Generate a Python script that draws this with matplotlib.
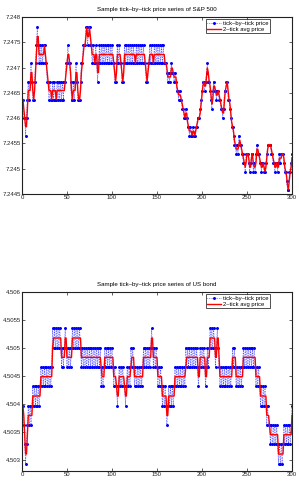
import numpy as np
import matplotlib
matplotlib.use("Agg")
import matplotlib.pyplot as plt
from matplotlib.ticker import FuncFormatter

# ---------------- data ----------------
# S&P 500: price = sp_base + sp_tick * sp_ticks  (log price plotted)
sp_base = 1400.0
sp_tick = 0.5
sp_ticks = [
    6, 5, 5, 4, 5, 6, 7, 6, 7, 8,
    7, 6, 6, 7, 8, 9, 10, 9, 8, 9,
    8, 9, 8, 9, 9, 8, 8, 7, 7, 6,
    7, 6, 6, 7, 6, 7, 6, 6, 7, 6,
    7, 6, 7, 6, 7, 6, 7, 7, 8, 8,
    9, 8, 8, 7, 6, 6, 7, 6, 7, 8,
    7, 6, 6, 6, 7, 8, 8, 9, 9, 9,
    10, 10, 9, 10, 10, 9, 9, 8, 9, 8,
    8, 9, 8, 7, 8, 9, 8, 9, 8, 9,
    8, 9, 8, 9, 8, 9, 8, 9, 8, 9,
    8, 8, 7, 7, 8, 9, 8, 9, 8, 8,
    7, 7, 8, 9, 8, 9, 8, 9, 8, 9,
    8, 9, 8, 9, 8, 8, 9, 8, 9, 8,
    9, 8, 9, 8, 9, 8, 8, 7, 7, 8,
    8, 9, 8, 9, 8, 8, 9, 8, 9, 8,
    9, 8, 9, 8, 9, 8, 9, 8, 8, 8,
    7.5, 7, 7.5, 7, 7.5, 8, 7.5, 7.5, 7, 7.5,
    7, 6.5, 6.5, 6, 6.5, 6, 6, 5.5, 5.5, 5,
    5, 5.5, 5, 4.5, 4.5, 4, 4.5, 4, 4, 4.5,
    4, 4, 4.5, 4.5, 5, 5, 5, 5.5, 6, 6.5,
    7, 7, 6.5, 7, 7.5, 8, 7, 7, 6.5, 6,
    5.5, 6.5, 7, 6.5, 6.5, 6, 6.5, 6.5, 6, 6,
    5.5, 5.5, 5, 5.5, 6.5, 6.5, 7, 7, 6, 6,
    5.5, 5, 4.5, 4.5, 4, 3.5, 3.5, 3, 3.5, 3,
    4, 3.5, 3.5, 3, 3, 2.5, 2.5, 2, 3, 3,
    3, 2.5, 2, 2.5, 3, 3, 2, 2.5, 2, 3,
    3.5, 3, 3, 2.5, 2.5, 2, 2.5, 2.5, 2, 2,
    2.5, 3, 3.5, 3.5, 3.5, 3.5, 3, 3, 2.5, 2.5,
    2, 2.5, 2.5, 2, 2.5, 3, 2.5, 3, 3, 3,
    2.5, 2, 2, 1.5, 1, 1, 2, 2, 2.5, 3,
]

# US bond: price = bond_base + bond_32nds / 32  (log price plotted)
bond_base = 90.0
bond_32nds = [
    12, 11, 10, 9, 10, 11, 12, 11, 12, 11,
    12, 13, 12, 13, 12, 13, 12, 13, 12, 13,
    14, 13, 14, 13, 14, 13, 14, 13, 14, 13,
    14, 13, 14, 16, 15, 16, 15, 16, 15, 16,
    15, 16, 15, 14, 15, 14, 15, 16, 15, 14,
    15, 14, 15, 14, 15, 16, 15, 16, 15, 16,
    15, 16, 15, 16, 15, 14, 15, 14, 15, 14,
    15, 14, 15, 14, 15, 14, 15, 14, 15, 14,
    15, 14, 15, 14, 15, 14, 15, 13, 14, 13,
    14, 15, 14, 15, 14, 15, 14, 15, 14, 15,
    14, 13, 14, 13, 13, 12, 13, 14, 13, 14,
    13, 14, 13, 13, 12, 13, 14, 13, 14, 13,
    15, 14, 15, 14, 13, 14, 13, 14, 13, 14,
    13, 14, 13, 14, 15, 14, 15, 14, 15, 14,
    15, 14, 15, 16, 15, 14, 15, 14, 15, 14,
    13, 14, 13, 14, 13, 12, 13, 12, 13, 12,
    11, 12, 13, 12, 13, 12, 13, 12, 13, 14,
    13, 14, 13, 14, 13, 14, 13, 14, 13, 14,
    13, 15, 14, 15, 14, 15, 14, 15, 14, 15,
    14, 15, 14, 15, 14, 13, 14, 15, 14, 15,
    14, 15, 14, 13, 14, 15, 14, 15, 16, 15,
    16, 15, 16, 15, 14, 15, 16, 15, 14, 13,
    14, 13, 14, 13, 14, 13, 14, 13, 14, 13,
    14, 13, 14, 15, 14, 15, 14, 13, 14, 13,
    14, 13, 14, 13, 14, 15, 14, 15, 14, 15,
    14, 15, 14, 15, 14, 15, 14, 15, 14, 13,
    14, 13, 14, 13, 12, 13, 12, 13, 12, 13,
    12, 11, 12, 11, 11, 10, 11, 10, 11, 10,
    11, 10, 11, 10, 9, 10, 9, 10, 9, 10,
    11, 10, 11, 10, 11, 10, 11, 10, 11, 12,
]

titles = ["Sample tick\u2013by\u2013tick price series of S&P 500",
          "Sample tick\u2013by\u2013tick price series of US bond"]
legend_labels = ["tick\u2013by\u2013tick price", "2\u2013tick avg price"]
x_ticks = [0, 50, 100, 150, 200, 250, 300]
sp_ylim = (7.2445, 7.248)
sp_yticks = [7.2445, 7.245, 7.2455, 7.246, 7.2465, 7.247, 7.2475, 7.248]
bond_ylim = (4.5028, 4.506)
bond_yticks = [4.503, 4.5035, 4.504, 4.5045, 4.505, 4.5055, 4.506]

# ---------------- plot ----------------
FAM = ['Liberation Sans Narrow', 'Liberation Sans', 'DejaVu Sans']
plt.rcParams['font.family'] = FAM

fig = plt.figure(figsize=(2.99, 4.98), dpi=100)
ax1 = fig.add_axes([22/299, 1-194/498, 270/299, 177/498])
ax2 = fig.add_axes([22/299, 1-471/498, 270/299, 179/498])

sp_price = np.log(sp_base + sp_tick * np.array(sp_ticks, dtype=float))
bond_price = np.log(bond_base + np.array(bond_32nds, dtype=float) / 32.0)


def draw(ax, y, title, ylim, yticks):
    x = np.arange(1, len(y) + 1)
    avg = np.empty_like(y)
    avg[0] = y[0]
    avg[1:] = (y[1:] + y[:-1]) / 2.0
    ax.plot(x, y, color='#0000ff', linestyle=':', linewidth=0.45,
            marker='.', markersize=2.3, label=legend_labels[0])
    ax.plot(x, avg, color='#ff0000', linewidth=1.0, label=legend_labels[1])
    ax.set_xlim(0, 300)
    ax.set_ylim(*ylim)
    ax.set_xticks(x_ticks)
    ax.set_yticks(yticks)
    ax.yaxis.set_major_formatter(FuncFormatter(lambda v, p: '%g' % round(v, 5)))
    ax.tick_params(direction='in', length=2.5, width=0.5, labelsize=4.3,
                   top=True, right=True, pad=1.0, colors='#222222')
    for s in ax.spines.values():
        s.set_linewidth(0.8)
        s.set_color('#222222')
    ax.set_title(title, fontsize=4.4, pad=4)
    leg = ax.legend(loc='upper right', bbox_to_anchor=(0.918, 0.988),
                    fontsize=4.2, frameon=True, fancybox=False,
                    edgecolor='black', borderpad=0.25, handlelength=2.4,
                    handletextpad=0.3, labelspacing=0.15, borderaxespad=0.0)
    leg.get_frame().set_linewidth(0.6)


draw(ax1, sp_price, titles[0], sp_ylim, sp_yticks)
draw(ax2, bond_price, titles[1], bond_ylim, bond_yticks)

fig.savefig('out.png', dpi=100)
